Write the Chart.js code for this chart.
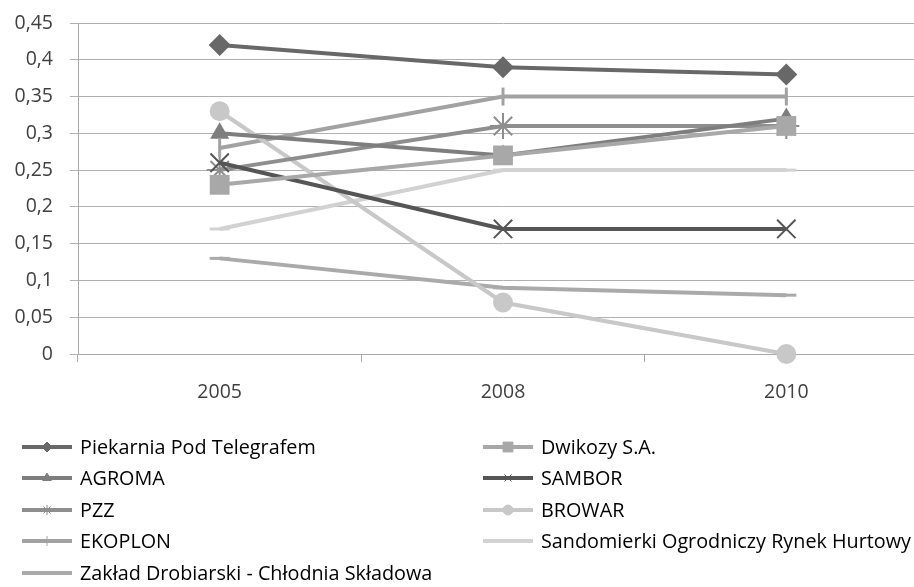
<!DOCTYPE html>
<html>
<head>
<meta charset="utf-8">
<script src="https://cdn.jsdelivr.net/npm/chart.js@4/dist/chart.umd.min.js"></script>
<style>
  html, body { margin: 0; padding: 0; background: #fff; overflow: hidden; }
  #wrap { width: 914px; height: 587px; position: relative; overflow: hidden; }
</style>
</head>
<body>
<div id="wrap"><canvas id="chart" width="928" height="587"></canvas></div>
<script>
/* data */
var years = ["2005", "2008", "2010"];
var seriesNames = [
  "Piekarnia Pod Telegrafem", "Dwikozy S.A.", "AGROMA", "SAMBOR", "PZZ",
  "BROWAR", "EKOPLON", "Sandomierki Ogrodniczy Rynek Hurtowy",
  "Zakład Drobiarski - Chłodnia Składowa"
];
var piekarnia = [0.42, 0.39, 0.38];
var dwikozy = [0.23, 0.27, 0.31];
var agroma = [0.30, 0.27, 0.32];
var sambor = [0.26, 0.17, 0.17];
var pzz = [0.25, 0.31, 0.31];
var browar = [0.33, 0.07, 0];
var ekoplon = [0.28, 0.35, 0.35];
var sandomierki = [0.17, 0.25, 0.25];
var zaklad = [0.13, 0.09, 0.08];
var yTicks = [0, 0.05, 0.1, 0.15, 0.2, 0.25, 0.3, 0.35, 0.4, 0.45];

var FONT = "'Open Sans', sans-serif";

/* look of each line, in the same order as seriesNames */
var looks = [
  { color: "#686868", point: "rectRot", r: 11, rot: 0 },
  { color: "#a8a8a8", point: "rect", r: 14, rot: 0 },
  { color: "#7e7e7e", point: "triangle", r: 11, rot: 0 },
  { color: "#555555", point: "crossRot", r: 13, rot: 0 },
  { color: "#8e8e8e", point: "star", r: 13, rot: 0 },
  { color: "#c8c8c8", point: "circle", r: 10, rot: 0 },
  { color: "#a2a2a2", point: "line", r: 9, rot: 90 },
  { color: "#d2d2d2", point: "line", r: 10, rot: 0 },
  { color: "#aaaaaa", point: "line", r: 10, rot: 0 }
];
var values = [piekarnia, dwikozy, agroma, sambor, pzz, browar, ekoplon, sandomierki, zaklad];

var datasets = seriesNames.map(function (name, i) {
  var lk = looks[i];
  var solid = lk.point !== "crossRot" && lk.point !== "star" && lk.point !== "line";
  return {
    label: name,
    data: values[i],
    borderColor: lk.color,
    backgroundColor: lk.color,
    borderWidth: 4,
    pointStyle: lk.point,
    pointRadius: lk.r,
    pointRotation: lk.rot,
    pointBorderWidth: solid ? 0 : (lk.point === "line" ? 3 : 2),
    pointBackgroundColor: lk.color,
    pointBorderColor: lk.color,
    tension: 0,
    clip: false
  };
});

/* two-column legend like the original */
var legendPlugin = {
  id: "colLegend",
  afterDraw: function (chart) {
    var ctx = chart.ctx;
    var rowY = [447, 478, 510, 541, 573];
    ctx.save();
    ctx.font = "19.8px " + FONT;
    ctx.textBaseline = "middle";
    chart.data.datasets.forEach(function (ds, i) {
      var col = i % 2, row = Math.floor(i / 2);
      var x0 = col === 0 ? 22 : 483;
      var y = rowY[row];
      ctx.strokeStyle = ds.borderColor;
      ctx.lineWidth = 4;
      ctx.beginPath();
      ctx.moveTo(x0, y);
      ctx.lineTo(x0 + 50, y);
      ctx.stroke();
      var lk = looks[i];
      if (i < 7) {
        ctx.fillStyle = ds.borderColor;
        ctx.strokeStyle = ds.borderColor;
        ctx.lineWidth = 1;
        Chart.helpers.drawPoint(ctx, {
          pointStyle: lk.point, radius: lk.point === "rect" ? 7 : 5, rotation: lk.rot, borderWidth: 1
        }, x0 + 25, y);
      }
      ctx.fillStyle = "#000";
      ctx.fillText(ds.label, x0 + 58, y + 1);
    });
    ctx.restore();
  }
};

new Chart(document.getElementById("chart"), {
  type: "line",
  data: { labels: years, datasets: datasets },
  plugins: [legendPlugin],
  options: {
    responsive: false,
    animation: false,
    layout: { autoPadding: false, padding: { left: 0, right: 0, top: 23, bottom: 185 } },
    plugins: { legend: { display: false }, tooltip: { enabled: false } },
    scales: {
      x: {
        offset: true,
        grid: { display: true, drawOnChartArea: false, drawTicks: true, tickLength: 8, offset: true, color: "#a8a8a8" },
        border: { color: "#a8a8a8", width: 1 },
        ticks: { color: "#404040", font: { family: FONT, size: 19.5 }, padding: 19 },
        afterFit: function (s) { s.height = 48; s.paddingLeft = 0; s.paddingRight = 0; }
      },
      y: {
        min: 0, max: 0.45,
        afterBuildTicks: function (s) { s.ticks = yTicks.map(function (v) { return { value: v }; }); },
        grid: { color: "#b0b0b0", tickLength: 8, drawTicks: true },
        border: { color: "#a8a8a8", width: 1 },
        ticks: {
          color: "#404040", font: { family: FONT, size: 19.5 }, padding: 17,
          callback: function (v) { return String(v).replace(".", ","); }
        },
        afterFit: function (s) { s.width = 78; s.paddingTop = 0; s.paddingBottom = 0; }
      }
    }
  }
});
</script>
</body>
</html>
